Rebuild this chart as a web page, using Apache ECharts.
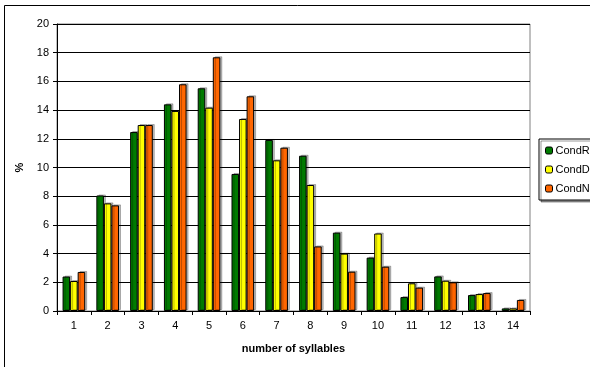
<!DOCTYPE html>
<html>
<head>
<meta charset="utf-8">
<script src="https://cdn.jsdelivr.net/npm/echarts@6/dist/echarts.min.js"></script>
<style>
html,body{margin:0;padding:0;background:#fff;}
#main{width:590px;height:367px;}
</style>
</head>
<body>
<div id="main"></div>
<script>
// 数据
var syllables = ['1','2','3','4','5','6','7','8','9','10','11','12','13','14'];
var condR = [2.4, 8.05, 12.47, 14.4, 15.52, 9.55, 11.92, 10.82, 5.46, 3.72, 0.97, 2.41, 1.11, 0.18];
var condD = [2.09, 7.5, 12.96, 13.94, 14.17, 13.38, 10.5, 8.78, 4.0, 5.4, 1.93, 2.11, 1.18, 0.18];
var condN = [2.72, 7.36, 12.96, 15.8, 17.68, 14.96, 11.38, 4.5, 2.74, 3.09, 1.63, 2.0, 1.25, 0.77];
var yTicks = [0, 2, 4, 6, 8, 10, 12, 14, 16, 18, 20];

var font = 'Liberation Sans, Arial, sans-serif';

function barStyle(color){
	return {
		color: color,
		borderColor: '#000',
		borderWidth: 1,
		shadowColor: 'rgba(0,0,0,0.25)',
		shadowOffsetX: 2,
		shadowOffsetY: -1,
		shadowBlur: 0
	};
}

var myChart = echarts.init(document.getElementById('main'));
var option = {
	animation: false,
	textStyle: {fontFamily: font},
	graphic: [
		{type: 'rect', shape: {x: 4.5, y: 5.5, width: 620, height: 400}, style: {fill: 'none', stroke: '#000', lineWidth: 1}, silent: true}
	],
	grid: {left: 57, right: 60, top: 24, bottom: 56, show: true, borderColor: '#808080', borderWidth: 1, backgroundColor: '#fff'},
	legend: {
		orient: 'vertical',
		left: 539,
		top: 139,
		itemWidth: 7,
		itemHeight: 7,
		itemGap: 8,
		padding: [6, 20, 6, 6],
		borderColor: '#000',
		borderWidth: 1,
		backgroundColor: '#fff',
		shadowColor: 'rgba(0,0,0,0.4)',
		shadowOffsetX: 2,
		shadowOffsetY: 2,
		textStyle: {fontSize: 11, color: '#000', fontFamily: font, padding: [0, 0, 0, -2]},
		itemStyle: {borderColor: '#000', borderWidth: 1},
		data: ['CondR', 'CondD', 'CondN']
	},
	xAxis: {
		type: 'category',
		data: syllables,
		name: 'number of syllables',
		nameLocation: 'middle',
		nameGap: 32,
		nameTextStyle: {fontSize: 11, fontWeight: 'bold', color: '#000'},
		axisLine: {lineStyle: {color: '#000'}},
		axisTick: {show: true, length: 4, lineStyle: {color: '#000'}},
		axisLabel: {fontSize: 11, color: '#000', margin: 9},
		splitLine: {show: false}
	},
	yAxis: {
		type: 'value',
		min: yTicks[0],
		max: yTicks[yTicks.length - 1],
		interval: 2,
		name: '%',
		nameLocation: 'middle',
		nameGap: 30,
		nameRotate: 90,
		nameTextStyle: {fontSize: 11, fontWeight: 'bold', color: '#000'},
		axisLine: {show: true, lineStyle: {color: '#000'}},
		axisTick: {show: true, length: 4, lineStyle: {color: '#000'}},
		axisLabel: {fontSize: 11, color: '#000', margin: 8},
		splitLine: {lineStyle: {color: '#000', width: 1}}
	},
	series: [
		{name: 'CondR', type: 'bar', data: condR, barGap: '0%', barCategoryGap: '33%', itemStyle: barStyle('#007a00')},
		{name: 'CondD', type: 'bar', data: condD, barGap: '0%', barCategoryGap: '33%', itemStyle: barStyle('#ffff00')},
		{name: 'CondN', type: 'bar', data: condN, barGap: '0%', barCategoryGap: '33%', itemStyle: barStyle('#ff6600')}
	]
};
myChart.setOption(option);
</script>
</body>
</html>
